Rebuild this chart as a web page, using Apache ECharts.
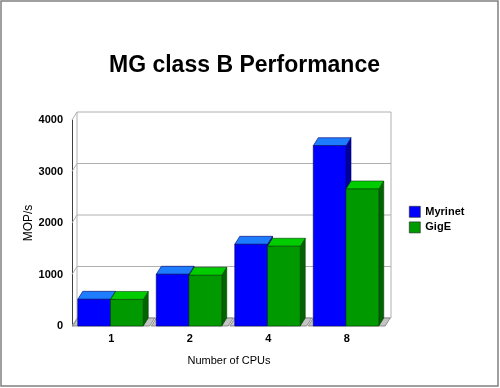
<!DOCTYPE html>
<html><head><meta charset="utf-8">
<script src="https://cdn.jsdelivr.net/npm/echarts@6/dist/echarts.min.js"></script>
<style>html,body{margin:0;padding:0;background:#fff}#c{width:500px;height:388px}</style>
</head><body><div id="c"></div>
<script>
const categories = ['1', '2', '4', '8'];
const myrinet = [518, 1004, 1586, 3501];
const gigE = [516, 984, 1548, 2660];
const yTicks = [0, 1000, 2000, 3000, 4000];
const seriesNames = ['Myrinet', 'GigE'];

const DX = 5, DY = -8;
const FONT = 'Liberation Sans, Arial, sans-serif';
const palettes = [
  {front: '#0000ff', top: '#1e7cff', side: '#0000a0', edge: '#00006a'},
  {front: '#009900', top: '#00cc00', side: '#006400', edge: '#004000'}
];

function barRender(idx) {
  const col = palettes[idx];
  return function (params, api) {
    const cat = api.value(0), v = api.value(1);
    const c = api.coord([cat, v]);
    const c0 = api.coord([cat, 0]);
    const band = api.size([1, 0])[0];
    const w = band * 0.417;
    const x0 = c[0] - w + idx * w - 0.75;
    const x1 = x0 + w;
    const yt = c[1], yb = c0[1];
    const lw = 0.6;
    return {type: 'group', children: [
      {type: 'polygon', shape: {points: [[x1, yb], [x1 + DX, yb + DY], [x1 + DX, yt + DY], [x1, yt]]},
        style: {fill: col.side, stroke: col.edge, lineWidth: lw}},
      {type: 'polygon', shape: {points: [[x0, yt], [x0 + DX, yt + DY], [x1 + DX, yt + DY], [x1, yt]]},
        style: {fill: col.top, stroke: col.edge, lineWidth: lw}},
      {type: 'rect', shape: {x: x0, y: yt, width: w, height: yb - yt},
        style: {fill: col.front, stroke: col.edge, lineWidth: lw}}
    ]};
  };
}

function wallRender(params, api) {
  const cs = params.coordSys;
  const v = api.value(1);
  const y = api.coord([0, v])[1];
  const children = [{type: 'polyline', shape: {points: [[cs.x, y], [cs.x + DX, y + DY], [cs.x + cs.width + DX, y + DY]]},
    style: {stroke: '#b0b0b0', lineWidth: 1, fill: null}}];
  if (params.dataIndex === 0) {
    const yTop = api.coord([0, yTicks[yTicks.length - 1]])[1];
    children.push({type: 'line', shape: {x1: cs.x + DX, y1: yTop + DY, x2: cs.x + DX, y2: y + DY}, style: {stroke: '#b0b0b0', lineWidth: 1}});
    children.push({type: 'line', shape: {x1: cs.x + cs.width + DX, y1: yTop + DY, x2: cs.x + cs.width + DX, y2: y + DY}, style: {stroke: '#b0b0b0', lineWidth: 1}});
  }
  return {type: 'group', children};
}

function floorRender(params, api) {
  const cat = api.value(0);
  const c = api.coord([cat, 0]);
  const band = api.size([1, 0])[0];
  const bx0 = c[0] - band / 2 + 0.8, bx1 = c[0] + band / 2 - 0.8;
  const y = c[1];
  return {type: 'polygon', shape: {points: [[bx0, y], [bx0 + DX, y + DY], [bx1 + DX, y + DY], [bx1, y]]},
    style: {fill: '#c4c4c4', stroke: '#7a7a7a', lineWidth: 0.8}};
}

const chart = echarts.init(document.getElementById('c'), null, {renderer: 'canvas'});
chart.setOption({
  backgroundColor: '#fff',
  animation: false,
  title: {text: 'MG class B Performance', left: 104, top: 49,
    textStyle: {fontFamily: FONT, fontSize: 23, fontWeight: 'bold', color: '#000'}},
  legend: {data: seriesNames, orient: 'vertical', left: 404, top: 201, icon: 'rect',
    itemWidth: 11, itemHeight: 11, itemGap: 4,
    itemStyle: {borderColor: '#202020', borderWidth: 0.6},
    textStyle: {fontFamily: FONT, fontSize: 11, fontWeight: 'bold', color: '#000'}},
  grid: {left: 72, right: 114, top: 120, bottom: 62},
  xAxis: {type: 'category', data: categories, boundaryGap: true,
    axisLine: {show: false}, axisTick: {show: false}, splitLine: {show: false},
    axisLabel: {fontFamily: FONT, fontSize: 11, fontWeight: 'bold', color: '#000', margin: 7},
    name: 'Number of CPUs', nameLocation: 'middle', nameGap: 29,
    nameTextStyle: {fontFamily: FONT, fontSize: 11, color: '#000'}},
  yAxis: {type: 'value', min: 0, max: 4000, interval: 1000,
    axisLine: {show: true, lineStyle: {color: '#404040', width: 1}}, axisTick: {show: false},
    splitLine: {show: false},
    axisLabel: {fontFamily: FONT, fontSize: 11, fontWeight: 'bold', color: '#000', margin: 9,
      formatter: v => String(v)},
    name: 'MOP/s', nameLocation: 'middle', nameGap: 37, nameMoveOverlap: false,
    nameTextStyle: {fontFamily: FONT, fontSize: 12, color: '#000'}},
  series: [
    {type: 'custom', name: 'walls', z: 1, silent: true, renderItem: wallRender,
      data: yTicks.map(v => [0, v]), encode: {x: 0, y: 1}},
    {type: 'custom', name: 'floor', z: 2, silent: true, renderItem: floorRender,
      data: categories.map((c, i) => [i, 0]), encode: {x: 0, y: 1}},
    {type: 'custom', name: seriesNames[0], z: 3, renderItem: barRender(0),
      itemStyle: {color: palettes[0].front},
      data: myrinet.map((v, i) => [i, v]), encode: {x: 0, y: 1}},
    {type: 'custom', name: seriesNames[1], z: 4, renderItem: barRender(1),
      itemStyle: {color: palettes[1].front},
      data: gigE.map((v, i) => [i, v]), encode: {x: 0, y: 1}}
  ],
  graphic: [{type: 'rect', shape: {x: 1, y: 1, width: 497, height: 385},
    style: {fill: null, stroke: '#808080', lineWidth: 1.5}, z: 100, silent: true}]
});
</script></body></html>
